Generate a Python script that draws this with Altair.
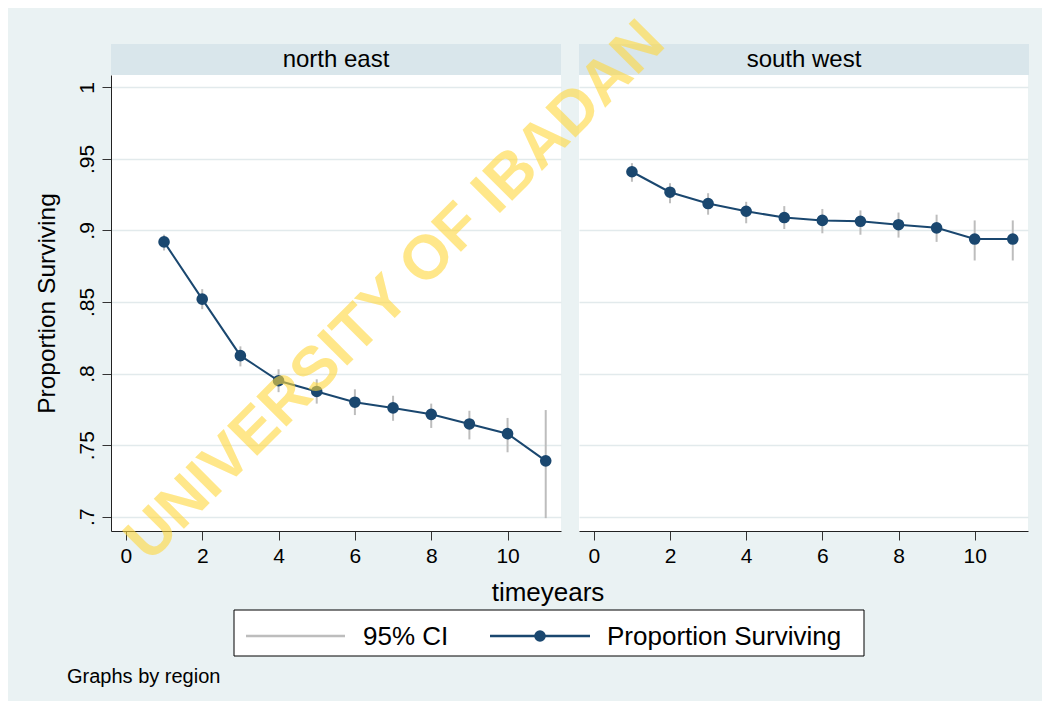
import altair as alt
import pandas as pd

# ---- data ----
time_years = [1, 2, 3, 4, 5, 6, 7, 8, 9, 10, 11]
regions = ["north east", "south west"]

ne_surv = [0.892, 0.852, 0.8125, 0.795, 0.7875, 0.780, 0.776, 0.7715, 0.7648, 0.758, 0.739]
ne_lo = [0.886, 0.845, 0.805, 0.787, 0.779, 0.771, 0.767, 0.762, 0.754, 0.745, 0.699]
ne_hi = [0.897, 0.859, 0.819, 0.803, 0.796, 0.789, 0.7845, 0.779, 0.774, 0.769, 0.7745]

sw_surv = [0.941, 0.9267, 0.9188, 0.9134, 0.909, 0.907, 0.9064, 0.904, 0.9018, 0.894, 0.894]
sw_lo = [0.934, 0.919, 0.911, 0.905, 0.901, 0.898, 0.897, 0.895, 0.892, 0.879, 0.879]
sw_hi = [0.947, 0.933, 0.926, 0.920, 0.917, 0.915, 0.914, 0.9125, 0.911, 0.907, 0.907]

y_ticks = [0.7, 0.75, 0.8, 0.85, 0.9, 0.95, 1.0]
x_ticks = [0, 2, 4, 6, 8, 10]
legend_labels = ["95% CI", "Proportion Surviving"]
x_title = "timeyears"
y_title = "Proportion Surviving"
note = "Graphs by region"
watermark = "UNIVERSITY OF IBADAN"

# ---- styles ----
FONT = "Liberation Sans"
NAVY = "#1A476F"
CI_GRAY = "#BDBDBD"
BG = "#EAF2F3"
STRIP = "#D9E6EB"
GRID = "#E2EAEC"
W, H = 450, 456

x_scale = alt.Scale(domain=[-0.39, 11.4], nice=False, zero=False)
y_scale = alt.Scale(domain=[0.69, 1.0086], nice=False, zero=False)

one = pd.DataFrame({"a": [0]})


def deco():
    return alt.Chart(one)


def panel(label, surv, lo, hi, show_y):
    df = pd.DataFrame({"t": time_years, "s": surv, "lo": lo, "hi": hi})
    base = alt.Chart(df)
    x_axis = alt.Axis(values=x_ticks, title=None, grid=False, labelFontSize=21,
                      labelFont=FONT, labelColor="black", labelPadding=5,
                      tickSize=9, tickColor="#333333", domainColor="#222222",
                      labelFlush=False)
    if show_y:
        y_axis = alt.Axis(values=y_ticks, title=y_title, grid=True, gridColor=GRID,
                          gridWidth=1.3,
                          labelExpr="datum.value >= 1 ? '1' : replace(format(datum.value, '.2~f'), '0.', '.')",
                          labelAngle=270, labelAlign="center", labelBaseline="bottom",
                          labelFontSize=21, labelFont=FONT, labelColor="black",
                          labelPadding=5, tickSize=9, tickColor="#333333",
                          domainColor="#222222", titleFont=FONT, titleFontSize=24.5,
                          titleFontWeight="normal", titleColor="black", titlePadding=17)
    else:
        y_axis = alt.Axis(values=y_ticks, title=None, grid=True, gridColor=GRID,
                          gridWidth=1.3, labels=False, ticks=False, domain=False)
    x = alt.X("t:Q", scale=x_scale, axis=x_axis)
    y = alt.Y("s:Q", scale=y_scale, axis=y_axis)
    ci = base.mark_rule(color=CI_GRAY, strokeWidth=2).encode(
        x=alt.X("t:Q", scale=x_scale), y=alt.Y("lo:Q", scale=y_scale), y2="hi:Q")
    line = base.mark_line(color=NAVY, strokeWidth=2).encode(x=x, y=y)
    pts = base.mark_circle(color=NAVY, size=135, opacity=1).encode(
        x=alt.X("t:Q", scale=x_scale), y=alt.Y("s:Q", scale=y_scale))
    strip = deco().mark_rect(color=STRIP).encode(
        x=alt.value(0), x2=alt.value(W), y=alt.value(-31), y2=alt.value(0))
    strip_txt = deco().mark_text(font=FONT, fontSize=24, color="black",
                                 baseline="middle", align="center").encode(
        x=alt.value(W / 2), y=alt.value(-15), text=alt.value(label))
    return [ci, line, pts, strip, strip_txt]


left_layers = panel(regions[0], ne_surv, ne_lo, ne_hi, True)
right_layers = panel(regions[1], sw_surv, sw_lo, sw_hi, False)

# invisible anchor fixing the overall chart extent
anchor = deco().mark_rect(opacity=0).encode(
    x=alt.value(-103), x2=alt.value(931), y=alt.value(-67), y2=alt.value(626))

xt = deco().mark_text(font=FONT, fontSize=26, color="black", align="center",
                      baseline="alphabetic").encode(
    x=alt.value(437), y=alt.value(526), text=alt.value(x_title))
leg_box = deco().mark_rect(fill="white", stroke="black", strokeWidth=1).encode(
    x=alt.value(123), x2=alt.value(753), y=alt.value(535), y2=alt.value(581))
leg_ci = deco().mark_rule(color=CI_GRAY, strokeWidth=2.5).encode(
    x=alt.value(135), x2=alt.value(234), y=alt.value(561))
leg_ci_txt = deco().mark_text(font=FONT, fontSize=26, color="black", align="left",
                              baseline="alphabetic").encode(
    x=alt.value(252), y=alt.value(570), text=alt.value(legend_labels[0]))
leg_ln = deco().mark_rule(color=NAVY, strokeWidth=2.5).encode(
    x=alt.value(379), x2=alt.value(479), y=alt.value(561))
leg_pt = deco().mark_circle(color=NAVY, size=135, opacity=1).encode(
    x=alt.value(429), y=alt.value(561))
leg_s_txt = deco().mark_text(font=FONT, fontSize=26, color="black", align="left",
                             baseline="alphabetic").encode(
    x=alt.value(496), y=alt.value(570), text=alt.value(legend_labels[1]))
note_txt = deco().mark_text(font=FONT, fontSize=20, color="black", align="left",
                            baseline="alphabetic").encode(
    x=alt.value(-44), y=alt.value(608), text=alt.value(note))

wm = deco().mark_text(font=FONT, fontSize=62, fontWeight="bold", color="#FFD83D",
                      opacity=0.6, angle=315, align="center", baseline="middle").encode(
    x=alt.value(-184), y=alt.value(216), text=alt.value(watermark))

left = alt.layer(anchor, *left_layers, xt, leg_box, leg_ci, leg_ci_txt, leg_ln,
                 leg_pt, leg_s_txt, note_txt).properties(width=W, height=H)
right = alt.layer(*right_layers, wm).properties(width=449, height=H)

chart = alt.hconcat(left, right, spacing=18, bounds="flush").properties(
    padding=0, background=BG
).configure_view(fill="white", stroke=None)

chart.save("out.html", embed_options={"renderer": "svg", "actions": False})
